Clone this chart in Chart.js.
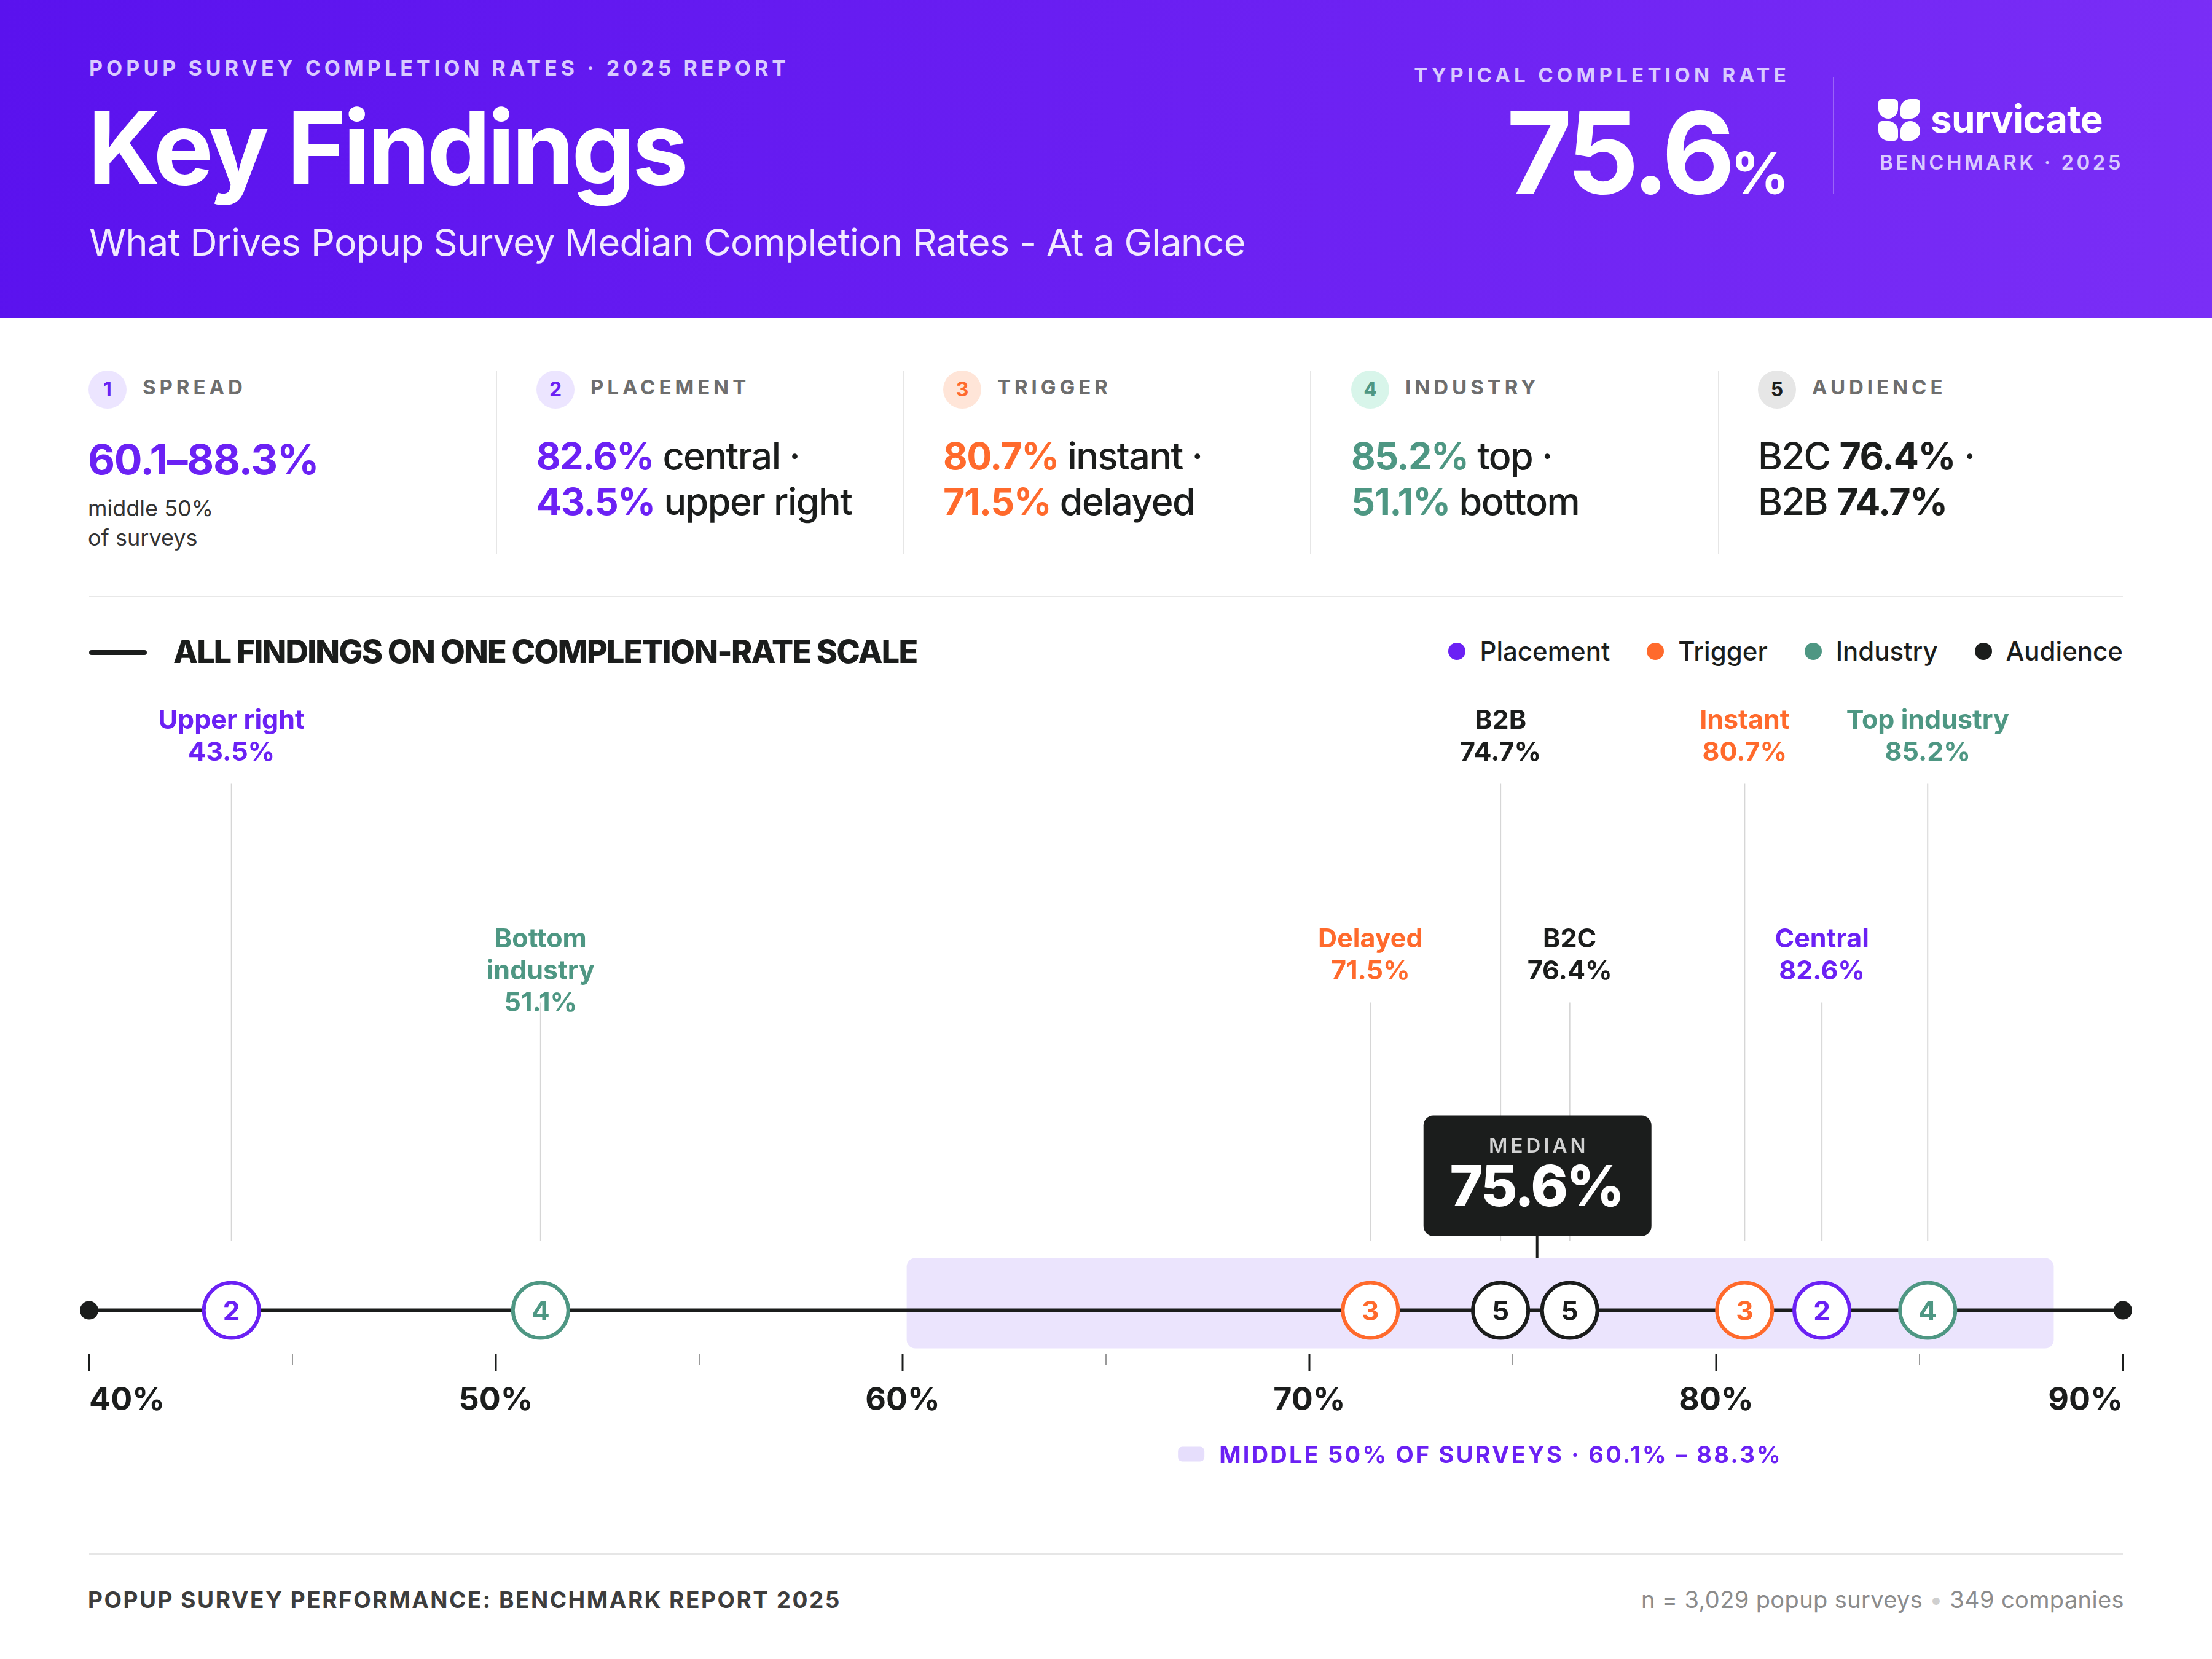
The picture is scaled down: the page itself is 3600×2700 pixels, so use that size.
<!DOCTYPE html>
<html>
<head>
<meta charset="utf-8">
<script src="https://cdn.jsdelivr.net/npm/chart.js@4.4.1/dist/chart.umd.min.js"></script>
<style>
  body { margin: 0; width: 3600px; height: 2700px; background: #fff; position: relative; overflow: hidden; font-family: Inter, "Noto Sans", sans-serif; color: #1b1d1c; }
  .abs { position: absolute; line-height: 1; white-space: nowrap; }
  #header { position: absolute; left: 0; top: 0; width: 3600px; height: 517px; background: linear-gradient(100deg, #5a12ee 0%, #6a1ff2 50%, #7a2ef6 100%); }
  .eyebrow { font-weight: 700; font-size: 34px; letter-spacing: 0.178em; color: #d9cbff; }
  .badge { position: absolute; width: 62px; height: 62px; border-radius: 50%; top: 603px; font-weight: 700; font-size: 32px; line-height: 62px; text-align: center; }
  .cardlabel { font-weight: 700; font-size: 33px; letter-spacing: 0.18em; color: #6e6e6e; top: 614px; }
  .cardval { position: absolute; top: 705px; font-size: 61px; line-height: 74px; font-weight: 500; white-space: nowrap; letter-spacing: -0.025em; }
  .cardval b { font-weight: 700; }
  .vdiv { position: absolute; top: 603px; width: 2px; height: 299px; background: #e6e6e6; }
  .hline { position: absolute; left: 145px; width: 3310px; height: 2px; background: #e8e8e8; }
  #legend { position: absolute; right: 145px; top: 1039px; height: 42px; display: flex; align-items: center; gap: 60px; font-size: 42px; font-weight: 500; line-height: 42px; }
  #legend span.item { display: flex; align-items: center; gap: 23px; }
  #legend i { display: block; width: 28px; height: 28px; border-radius: 50%; }
  .petal { position: absolute; width: 32px; height: 32px; background: #fff; }
</style>
</head>
<body>
<div id="header">
  <div class="abs eyebrow" style="left:145px; top:94px;">POPUP SURVEY COMPLETION RATES · 2025 REPORT</div>
  <div class="abs" style="left:143px; top:159px; font-size:164px; font-weight:700; letter-spacing:-0.03em; color:#fff;">Key Findings</div>
  <div class="abs" style="left:145px; top:364px; font-size:61px; font-weight:400; letter-spacing:-0.01em; color:#f1eaff;">What Drives Popup Survey Median Completion Rates - At a Glance</div>

  <div class="abs eyebrow" style="right:693px; top:106px; font-size:33px; letter-spacing:0.19em; margin-right:-6px;">TYPICAL COMPLETION RATE</div>
  <div class="abs" style="right:688px; top:156px; color:#fff; font-weight:700;"><span style="font-size:184px; letter-spacing:-0.04em;">75.6</span><span style="font-size:94px;">%</span></div>
  <div style="position:absolute; left:2983px; top:125px; width:2px; height:191px; background:rgba(255,255,255,0.28);"></div>

  <div style="position:absolute; left:3057px; top:161px; width:69px; height:68px;">
    <div class="petal" style="left:0; top:0; border-radius:6px 6px 50% 50%;"></div>
    <div class="petal" style="left:36px; top:0; border-radius:50% 6px 50% 6px;"></div>
    <div class="petal" style="left:0; top:36px; border-radius:6px 50% 6px 50%;"></div>
    <div class="petal" style="left:36px; top:36px; border-radius:50% 50% 50% 6px;"></div>
  </div>
  <div class="abs" style="left:3142px; top:163px; font-size:62px; font-weight:700; letter-spacing:-0.01em; color:#fff;">survicate</div>
  <div class="abs" style="left:3059px; top:248px; font-size:33px; font-weight:600; letter-spacing:0.135em; color:#d9cbff;">BENCHMARK · 2025</div>
</div>

<!-- finding cards -->
<div class="badge" style="left:144px; background:#ece5ff; color:#6b21f4;">1</div>
<div class="abs cardlabel" style="left:232px;">SPREAD</div>
<div class="abs" style="left:143px; top:713px; font-size:68px; font-weight:700; letter-spacing:-0.02em; color:#6b21f4;">60.1–88.3%</div>
<div style="position:absolute; left:143px; top:803px; font-size:36px; line-height:48px; color:#333;">middle 50%<br>of surveys</div>

<div class="vdiv" style="left:807px;"></div>
<div class="badge" style="left:873px; background:#ece5ff; color:#6b21f4;">2</div>
<div class="abs cardlabel" style="left:961px;">PLACEMENT</div>
<div class="cardval" style="left:873px;"><b style="color:#6b21f4;">82.6%</b> central ·<br><b style="color:#6b21f4;">43.5%</b> upper right</div>

<div class="vdiv" style="left:1470px;"></div>
<div class="badge" style="left:1535px; background:#ffe5d8; color:#ff6a2c;">3</div>
<div class="abs cardlabel" style="left:1623px;">TRIGGER</div>
<div class="cardval" style="left:1535px;"><b style="color:#ff6a2c;">80.7%</b> instant ·<br><b style="color:#ff6a2c;">71.5%</b> delayed</div>

<div class="vdiv" style="left:2132px;"></div>
<div class="badge" style="left:2199px; background:#d8f5ea; color:#4e9783;">4</div>
<div class="abs cardlabel" style="left:2287px;">INDUSTRY</div>
<div class="cardval" style="left:2199px;"><b style="color:#4e9783;">85.2%</b> top ·<br><b style="color:#4e9783;">51.1%</b> bottom</div>

<div class="vdiv" style="left:2796px;"></div>
<div class="badge" style="left:2861px; background:#e6e6e6; color:#1b1d1c;">5</div>
<div class="abs cardlabel" style="left:2949px;">AUDIENCE</div>
<div class="cardval" style="left:2861px;">B2C <b>76.4%</b> ·<br>B2B <b>74.7%</b></div>

<div class="hline" style="top:970px;"></div>

<!-- chart heading -->
<div style="position:absolute; left:145px; top:1058px; width:94px; height:8px; border-radius:4px; background:#1b1d1c;"></div>
<div class="abs" style="left:282px; top:1035px; font-size:52px; font-weight:800; letter-spacing:-0.035em;">ALL FINDINGS ON ONE COMPLETION-RATE SCALE</div>
<div id="legend"></div>

<canvas id="scale" width="3600" height="1330" style="position:absolute; left:0; top:1100px;"></canvas>

<div class="hline" style="top:2528px; height:3px; background:#e6e6e6;"></div>
<div class="abs" style="left:143px; top:2585px; font-size:37px; font-weight:700; letter-spacing:0.068em; color:#3d3d3d;">POPUP SURVEY PERFORMANCE: BENCHMARK REPORT 2025</div>
<div class="abs" style="right:143px; top:2584px; font-size:38px; letter-spacing:0.01em; color:#8c8c8c;">n = 3,029 popup surveys <span style="color:#cfcfcf;">•</span> 349 companies</div>

<script>
// completion-rate scale (percent)
const axisRange = [40, 90];
const tickStep = 5;
const medianRate = 75.6;
const middleBand = [60.1, 88.3];

// findings per group: first value sits in the upper label tier, second in the lower
const seriesNames = ['Placement', 'Trigger', 'Industry', 'Audience'];
const seriesTags = ['2', '3', '4', '5'];
const seriesColors = ['#6b21f4', '#ff6a2c', '#4e9783', '#1b1d1c'];
const placementValues = [43.5, 82.6];
const placementLabels = ['Upper right', 'Central'];
const triggerValues = [80.7, 71.5];
const triggerLabels = ['Instant', 'Delayed'];
const industryValues = [85.2, 51.1];
const industryLabels = ['Top industry', 'Bottom\nindustry'];
const audienceValues = [74.7, 76.4];
const audienceLabels = ['B2B', 'B2C'];

const INK = '#1b1d1c';
const FONT = 'Inter, "Noto Sans", sans-serif';
const allValues = [placementValues, triggerValues, industryValues, audienceValues];
const allLabels = [placementLabels, triggerLabels, industryLabels, audienceLabels];

// html legend
const legend = document.getElementById('legend');
seriesNames.forEach((name, i) => {
    legend.innerHTML += `<span class="item"><i style="background:${seriesColors[i]}"></i>${name}</span>`;
});

const scalePlugin = {
    id: 'scaleDecor',
    beforeDatasetsDraw(chart) {
        const ctx = chart.ctx;
        const x = chart.scales.x;
        const L = chart.scales.y.getPixelForValue(0);
        const px = v => x.getPixelForValue(v);
        ctx.save();
        // middle 50% band
        ctx.fillStyle = '#ebe4fd';
        ctx.beginPath();
        ctx.roundRect(px(middleBand[0]), L - 85, px(middleBand[1]) - px(middleBand[0]), 147, 14);
        ctx.fill();
        // leader lines
        ctx.strokeStyle = '#d6d6d6';
        ctx.lineWidth = 2;
        allValues.forEach(vals => vals.forEach((v, j) => {
            ctx.beginPath();
            ctx.moveTo(px(v), j === 0 ? L - 857 : L - 501);
            ctx.lineTo(px(v), L - 113);
            ctx.stroke();
        }));
        // median connector and box
        const mx = px(medianRate);
        ctx.strokeStyle = INK;
        ctx.lineWidth = 4;
        ctx.beginPath();
        ctx.moveTo(mx, L - 122);
        ctx.lineTo(mx, L - 85);
        ctx.stroke();
        ctx.fillStyle = INK;
        ctx.beginPath();
        ctx.roundRect(mx - 185, L - 317, 371, 196, 16);
        ctx.fill();
        ctx.textAlign = 'center';
        ctx.textBaseline = 'alphabetic';
        ctx.fillStyle = '#d2d2d2';
        ctx.font = `600 33px ${FONT}`;
        ctx.letterSpacing = '5px';
        ctx.fillText('MEDIAN', mx + 2.5, L - 257);
        ctx.fillStyle = '#fff';
        ctx.font = `800 92px ${FONT}`;
        ctx.letterSpacing = '-3px';
        ctx.fillText(medianRate + '%', mx - 1.5, L - 170);
        ctx.letterSpacing = '0px';
        // ticks
        x.ticks.forEach(t => {
            const major = t.value % 10 === 0;
            ctx.strokeStyle = major ? INK : '#9a9a9a';
            ctx.lineWidth = major ? 3 : 2;
            ctx.beginPath();
            ctx.moveTo(px(t.value), L + 71);
            ctx.lineTo(px(t.value), major ? L + 99 : L + 89);
            ctx.stroke();
        });
        // band legend under the band
        ctx.font = `700 38px ${FONT}`;
        ctx.letterSpacing = '3.2px';
        const txt = `MIDDLE 50% OF SURVEYS · ${middleBand[0]}% – ${middleBand[1]}%`;
        const tw = ctx.measureText(txt).width;
        const start = (px(middleBand[0]) + px(middleBand[1])) / 2 - (43 + 24 + tw) / 2;
        ctx.fillStyle = '#e6defc';
        ctx.beginPath();
        ctx.roundRect(start, L + 222, 43, 24, 7);
        ctx.fill();
        ctx.fillStyle = '#6b21f4';
        ctx.textAlign = 'left';
        ctx.fillText(txt, start + 67, L + 248);
        ctx.restore();
    },
    afterDatasetsDraw(chart) {
        const ctx = chart.ctx;
        const x = chart.scales.x;
        const L = chart.scales.y.getPixelForValue(0);
        ctx.save();
        ctx.textAlign = 'center';
        ctx.textBaseline = 'alphabetic';
        // numbers inside the markers
        ctx.font = `700 44px ${FONT}`;
        seriesNames.forEach((n, i) => {
            const meta = chart.getDatasetMeta(i + 1);
            ctx.fillStyle = seriesColors[i];
            meta.data.forEach(el => ctx.fillText(seriesTags[i], el.x, el.y + 16));
        });
        // finding labels
        ctx.font = `700 43px ${FONT}`;
        allValues.forEach((vals, i) => vals.forEach((v, j) => {
            const lines = allLabels[i][j].split('\n').concat(v + '%');
            const y0 = j === 0 ? L - 947 : L - 591;
            ctx.fillStyle = seriesColors[i];
            lines.forEach((s, k) => ctx.fillText(s, x.getPixelForValue(v), y0 + k * 52));
        }));
        ctx.restore();
    }
};

const datasets = [{
    type: 'line',
    label: 'axis',
    data: axisRange.map(v => ({x: v, y: 0})),
    borderColor: INK,
    borderWidth: 6,
    pointRadius: 15,
    pointBackgroundColor: INK,
    pointBorderWidth: 0,
    clip: false,
    order: 5
}];
seriesNames.forEach((name, i) => {
    datasets.push({
        label: name,
        data: allValues[i].map(v => ({x: v, y: 0})),
        backgroundColor: '#fff',
        borderColor: seriesColors[i],
        pointBackgroundColor: '#fff',
        pointBorderColor: seriesColors[i],
        pointBorderWidth: 6,
        pointRadius: 45,
        clip: false,
        order: 1
    });
});

new Chart(document.getElementById('scale'), {
    type: 'scatter',
    data: { datasets: datasets },
    options: {
        responsive: false,
        animation: false,
        devicePixelRatio: 1,
        events: [],
        layout: { padding: { left: 145, right: 145, top: 0, bottom: 3 } },
        plugins: { legend: { display: false }, tooltip: { enabled: false } },
        scales: {
            x: {
                type: 'linear',
                min: axisRange[0],
                max: axisRange[1],
                grid: { display: false, drawTicks: false },
                border: { display: false },
                ticks: {
                    stepSize: tickStep,
                    padding: 116,
                    align: 'inner',
                    autoSkip: false,
                    maxRotation: 0,
                    color: INK,
                    font: { family: FONT, size: 52, weight: '700' },
                    callback: v => v % 10 === 0 ? v + '%' : ''
                }
            },
            y: { display: false, min: 0, max: 1 }
        }
    },
    plugins: [scalePlugin]
});
</script>
</body>
</html>
